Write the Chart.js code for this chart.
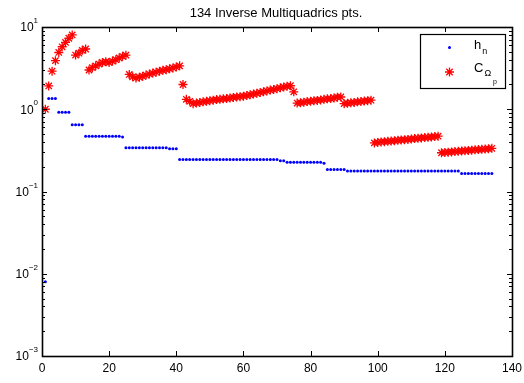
<!DOCTYPE html>
<html>
<head>
<meta charset="utf-8">
<script src="https://cdn.jsdelivr.net/npm/chart.js@4.4.0/dist/chart.umd.min.js"></script>
<style>
  html, body { margin: 0; padding: 0; background: #fff; }
  #wrap { width: 524px; height: 383px; }
</style>
</head>
<body>
<div id="wrap"><canvas id="grafico" width="524" height="383"></canvas></div>
<script>
// dados
const titulo = "134 Inverse Multiquadrics pts.";
const xTicks = [0, 20, 40, 60, 80, 100, 120, 140];
const yTicks = [0.001, 0.01, 0.1, 1, 10];
const yTickExp = ["\u22123", "\u22122", "\u22121", "0", "1"];
const legendaH = ["h", "n"];
const legendaC = ["C", "\u03A9", "p"];

const hN = [
  0.008, 1.35, 1.35, 1.35, 0.92, 0.92, 0.92, 0.92, 0.65, 0.65,
  0.65, 0.65, 0.47, 0.47, 0.47, 0.47, 0.47, 0.47, 0.47, 0.47,
  0.47, 0.47, 0.47, 0.46, 0.34, 0.34, 0.34, 0.34, 0.34, 0.34,
  0.34, 0.34, 0.34, 0.34, 0.34, 0.34, 0.34, 0.33, 0.33, 0.33,
  0.245, 0.245, 0.245, 0.245, 0.245, 0.245, 0.245, 0.245, 0.245, 0.245,
  0.245, 0.245, 0.245, 0.245, 0.245, 0.245, 0.245, 0.245, 0.245, 0.245,
  0.245, 0.245, 0.245, 0.245, 0.245, 0.245, 0.245, 0.245, 0.245, 0.245,
  0.237, 0.237, 0.226, 0.226, 0.226, 0.226, 0.226, 0.226, 0.226, 0.226,
  0.226, 0.226, 0.226, 0.22, 0.185, 0.185, 0.185, 0.185, 0.185, 0.185,
  0.178, 0.178, 0.178, 0.178, 0.178, 0.178, 0.178, 0.178, 0.178, 0.178,
  0.178, 0.178, 0.178, 0.178, 0.178, 0.178, 0.178, 0.178, 0.178, 0.178,
  0.178, 0.178, 0.178, 0.178, 0.178, 0.178, 0.178, 0.178, 0.178, 0.178,
  0.178, 0.178, 0.178, 0.178, 0.165, 0.165, 0.165, 0.165, 0.165, 0.165,
  0.165, 0.165, 0.165, 0.165
];

const cOmega = [
  1.0, 1.92, 2.9, 3.9, 4.9, 5.75, 6.5, 7.3, 8.0, 4.56,
  4.8, 5.2, 5.4, 3.0, 3.2, 3.37, 3.54, 3.7, 3.78, 3.7,
  3.85, 4.0, 4.2, 4.4, 4.55, 2.65, 2.48, 2.4, 2.45, 2.52,
  2.6, 2.68, 2.75, 2.82, 2.9, 2.97, 3.03, 3.1, 3.18, 3.27,
  3.37, 2.0, 1.32, 1.25, 1.17, 1.19, 1.21, 1.23, 1.25, 1.27,
  1.29, 1.31, 1.32, 1.34, 1.35, 1.37, 1.39, 1.41, 1.42, 1.44,
  1.47, 1.5, 1.53, 1.56, 1.6, 1.63, 1.67, 1.71, 1.74, 1.78,
  1.82, 1.87, 1.9, 1.93, 1.63, 1.19, 1.2, 1.22, 1.24, 1.25,
  1.27, 1.28, 1.3, 1.32, 1.34, 1.35, 1.37, 1.4, 1.41, 1.17,
  1.18, 1.2, 1.21, 1.23, 1.24, 1.26, 1.27, 1.29, 0.39, 0.395,
  0.4, 0.403, 0.407, 0.41, 0.415, 0.42, 0.423, 0.427, 0.43, 0.435,
  0.44, 0.444, 0.448, 0.452, 0.456, 0.46, 0.465, 0.47, 0.296, 0.298,
  0.301, 0.303, 0.306, 0.308, 0.311, 0.313, 0.316, 0.318, 0.321, 0.323,
  0.326, 0.328, 0.331, 0.335
];

const FONTE = '"Liberation Sans", Arial, Helvetica, sans-serif';
const AZUL = "#0000ff";
const VERMELHO = "#ff0000";

function desenhaEstrela(ctx, x, y, r) {
  ctx.beginPath();
  for (let k = 0; k < 4; k++) {
    const ang = k * Math.PI / 4;
    ctx.moveTo(x - r * Math.cos(ang), y - r * Math.sin(ang));
    ctx.lineTo(x + r * Math.cos(ang), y + r * Math.sin(ang));
  }
  ctx.stroke();
}

// eixos no estilo matlab: caixa, ticks para dentro, rótulos 10^n, legenda com subscritos
const moldura = {
  id: "moldura",
  afterDatasetsDraw(chart) {
    const { ctx, chartArea: a, scales: { x, y } } = chart;
    ctx.save();
    ctx.strokeStyle = "#000";
    ctx.lineWidth = 1;
    ctx.beginPath();
    xTicks.forEach(t => {
      const px = Math.round(x.getPixelForValue(t)) + 0.5;
      ctx.moveTo(px, a.bottom); ctx.lineTo(px, a.bottom - 5);
      ctx.moveTo(px, a.top); ctx.lineTo(px, a.top + 5);
    });
    for (let d = -3; d <= 1; d++) {
      const py = Math.round(y.getPixelForValue(Math.pow(10, d))) + 0.5;
      ctx.moveTo(a.left, py); ctx.lineTo(a.left + 5, py);
      ctx.moveTo(a.right, py); ctx.lineTo(a.right - 5, py);
      if (d < 1) {
        for (let m = 2; m <= 9; m++) {
          const pm = Math.round(y.getPixelForValue(m * Math.pow(10, d))) + 0.5;
          ctx.moveTo(a.left, pm); ctx.lineTo(a.left + 3, pm);
          ctx.moveTo(a.right, pm); ctx.lineTo(a.right - 3, pm);
        }
      }
    }
    ctx.stroke();
    ctx.lineWidth = 1.6;
    ctx.strokeRect(a.left + 0.5, a.top + 0.5, a.right - a.left, a.bottom - a.top);

    // rótulos do eixo x
    ctx.fillStyle = "#000";
    ctx.font = "12px " + FONTE;
    ctx.textAlign = "center";
    ctx.textBaseline = "middle";
    xTicks.forEach(t => {
      ctx.fillText(String(t), x.getPixelForValue(t), a.bottom + 13);
    });

    // rótulos do eixo y (10 com expoente)
    yTicks.forEach((t, i) => {
      const py = y.getPixelForValue(t);
      ctx.font = "8px " + FONTE;
      const we = ctx.measureText(yTickExp[i]).width;
      const xe = 38 - we;
      ctx.textAlign = "left";
      ctx.fillText(yTickExp[i], xe, py - 6);
      ctx.font = "12px " + FONTE;
      ctx.textAlign = "right";
      ctx.fillText("10", xe, py + 1);
    });

    // título
    ctx.font = "13px " + FONTE;
    ctx.textAlign = "center";
    ctx.fillText(titulo, 276, 13);

    // legenda
    ctx.lineWidth = 1.2;
    ctx.fillStyle = "#fff";
    ctx.fillRect(420.5, 34.5, 85, 54);
    ctx.strokeRect(420.5, 34.5, 85, 54);
    ctx.fillStyle = AZUL;
    ctx.beginPath();
    ctx.arc(449.5, 47.5, 1.5, 0, Math.PI * 2);
    ctx.fill();
    ctx.strokeStyle = VERMELHO;
    ctx.lineWidth = 1.3;
    desenhaEstrela(ctx, 449.5, 72, 4.5);

    ctx.fillStyle = "#000";
    ctx.textAlign = "left";
    ctx.font = "13px " + FONTE;
    ctx.fillText(legendaH[0], 474, 45);
    let w = ctx.measureText(legendaH[0]).width;
    ctx.font = "9px " + FONTE;
    ctx.fillText(legendaH[1], 474 + w + 1, 52);

    ctx.font = "13px " + FONTE;
    ctx.fillText(legendaC[0], 474, 68);
    w = ctx.measureText(legendaC[0]).width;
    ctx.font = "9px " + FONTE;
    ctx.fillText(legendaC[1], 474 + w + 1, 74);
    const w2 = ctx.measureText(legendaC[1]).width;
    ctx.font = "7px " + FONTE;
    ctx.fillText(legendaC[2], 474 + w + 1 + w2 + 2, 82);
    ctx.restore();
  }
};

const ctx = document.getElementById("grafico").getContext("2d");
new Chart(ctx, {
  type: "scatter",
  data: {
    datasets: [
      {
        label: "h_n",
        data: hN.map((v, i) => ({ x: i + 1, y: v })),
        pointStyle: "circle",
        pointRadius: 1.5,
        pointBorderWidth: 0,
        backgroundColor: AZUL,
        borderColor: AZUL,
      },
      {
        label: "C_Omega_p",
        data: cOmega.map((v, i) => ({ x: i + 1, y: v })),
        pointStyle: "star",
        pointRadius: 4.5,
        pointBorderWidth: 1.3,
        backgroundColor: VERMELHO,
        borderColor: VERMELHO,
      },
    ],
  },
  options: {
    responsive: false,
    animation: false,
    devicePixelRatio: 1,
    layout: { padding: { left: 42, top: 27, right: 12, bottom: 27 } },
    plugins: {
      legend: { display: false },
      title: { display: false },
      tooltip: { enabled: false },
    },
    scales: {
      x: { type: "linear", min: 0, max: 140, display: false },
      y: { type: "logarithmic", min: 0.001, max: 10, display: false },
    },
  },
  plugins: [moldura],
});
</script>
</body>
</html>
